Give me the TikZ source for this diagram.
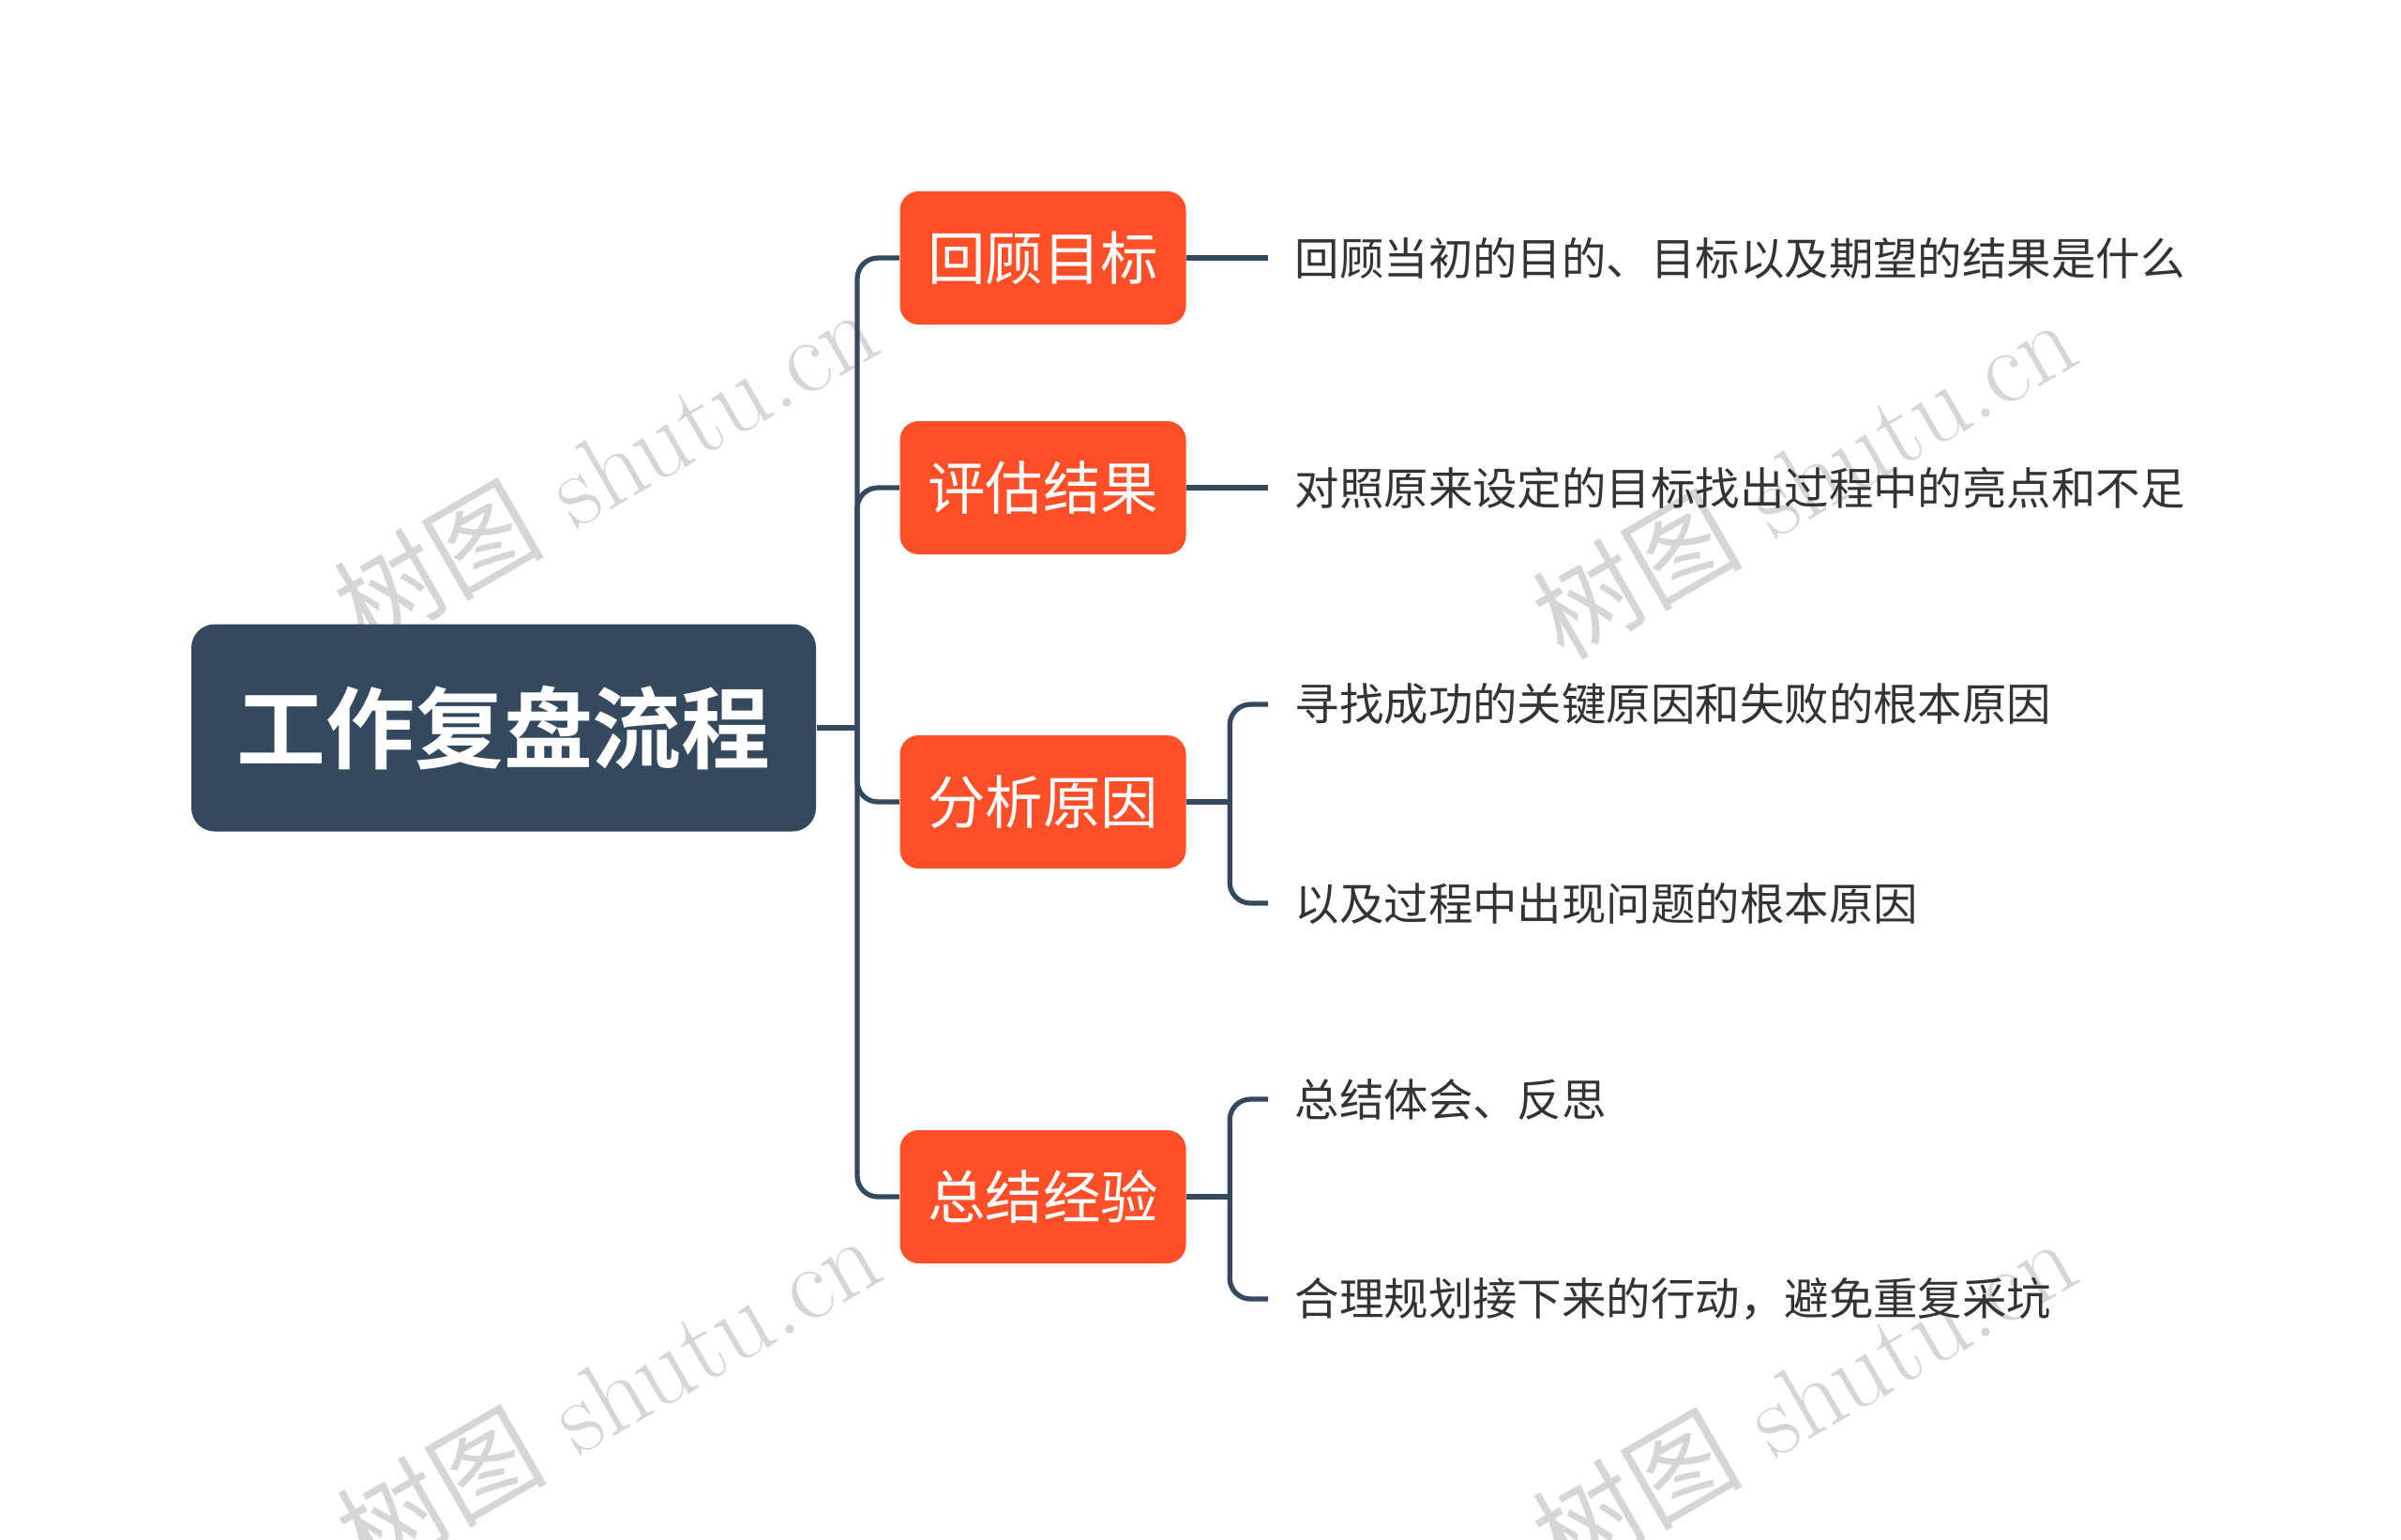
\documentclass[tikz,border=0pt]{standalone}
\usepackage{fontspec}
\usepackage{tikz}
\usetikzlibrary{positioning}
\usepackage{xcolor}
\newfontfamily\cjk[BoldFont={Noto Sans CJK SC Bold}]{Noto Sans CJK SC}
\definecolor{slate}{HTML}{35495E}
\definecolor{flame}{HTML}{FF4F28}
\definecolor{leafgray}{HTML}{333333}
\definecolor{markgray}{HTML}{D6D6D6}

\begin{document}
\begin{tikzpicture}[
  rootbox/.style={fill=slate,rounded corners=0.25cm,minimum width=6.66cm,minimum height=2.21cm,
    text=white,font=\cjk\bfseries\fontsize{27}{27}\selectfont},
  topic/.style={fill=flame,rounded corners=0.2cm,minimum width=3.05cm,minimum height=1.42cm,
    text=white,font=\cjk\fontsize{17.5}{17.5}\selectfont},
  leaf/.style={anchor=west,inner xsep=0.28cm,inner ysep=0pt,text=leafgray,
    font=\cjk\fontsize{13.5}{13.5}\selectfont},
  link/.style={draw=slate,line width=1.5pt,rounded corners=0.22cm},
  wmark/.style={text=markgray,rotate=30,font=\fontsize{32}{32}\selectfont}]
\useasboundingbox (0,0) rectangle (25.6,-16.41);
\node[wmark] (wmtl) at (6.45,-4.98) {{\cjk 树图} shutu.cn};
\node[wmark] (wmtr) at (19.23,-5.09) {{\cjk 树图} shutu.cn};
\node[wmark] (wmbl) at (6.48,-14.86) {{\cjk 树图} shutu.cn};
\node[wmark] (wmbr) at (19.23,-14.89) {{\cjk 树图} shutu.cn};

\node[rootbox] (root) at (5.37,-7.76) {工作复盘流程};
\node[topic] (review) at (11.12,-2.75) {回顾目标};
\node[topic] (assess) at (11.12,-5.20) {评估结果};
\node[topic] (analyse) at (11.12,-8.55) {分析原因};
\node[topic] (sumup) at (11.12,-12.76) {总结经验};

\node[leaf] (reviewleaf) at (13.52,-2.75) {回顾当初的目的、目标以及期望的结果是什么};
\node[leaf] (assessleaf) at (13.52,-5.20) {对照原来设定的目标找出过程中的亮点和不足};
\node[leaf] (analyseup) at (13.52,-7.51) {寻找成功的关键原因和失败的根本原因};
\node[leaf] (analysedown) at (13.52,-9.63) {以及过程中出现问题的根本原因};
\node[leaf] (sumupup) at (13.52,-11.72) {总结体会、反思};
\node[leaf] (sumupdown) at (13.52,-13.85) {合理规划接下来的行动，避免重复采坑};

\coordinate (trunk) at (9.14,-7.76);
\draw[link] (root.east) -- (trunk);
\foreach \t in {review,assess,analyse,sumup}
  \draw[link] (trunk) |- (\t.west);

\draw[link] (review.east) -- (reviewleaf.west);
\draw[link] (assess.east) -- (assessleaf.west);

\coordinate[right=4.6mm of analyse.east] (analysefork);
\draw[link] (analyse.east) -- (analysefork);
\draw[link] (analysefork) |- (analyseup.west);
\draw[link] (analysefork) |- (analysedown.west);

\coordinate[right=4.6mm of sumup.east] (sumupfork);
\draw[link] (sumup.east) -- (sumupfork);
\draw[link] (sumupfork) |- (sumupup.west);
\draw[link] (sumupfork) |- (sumupdown.west);
\end{tikzpicture}
\end{document}
